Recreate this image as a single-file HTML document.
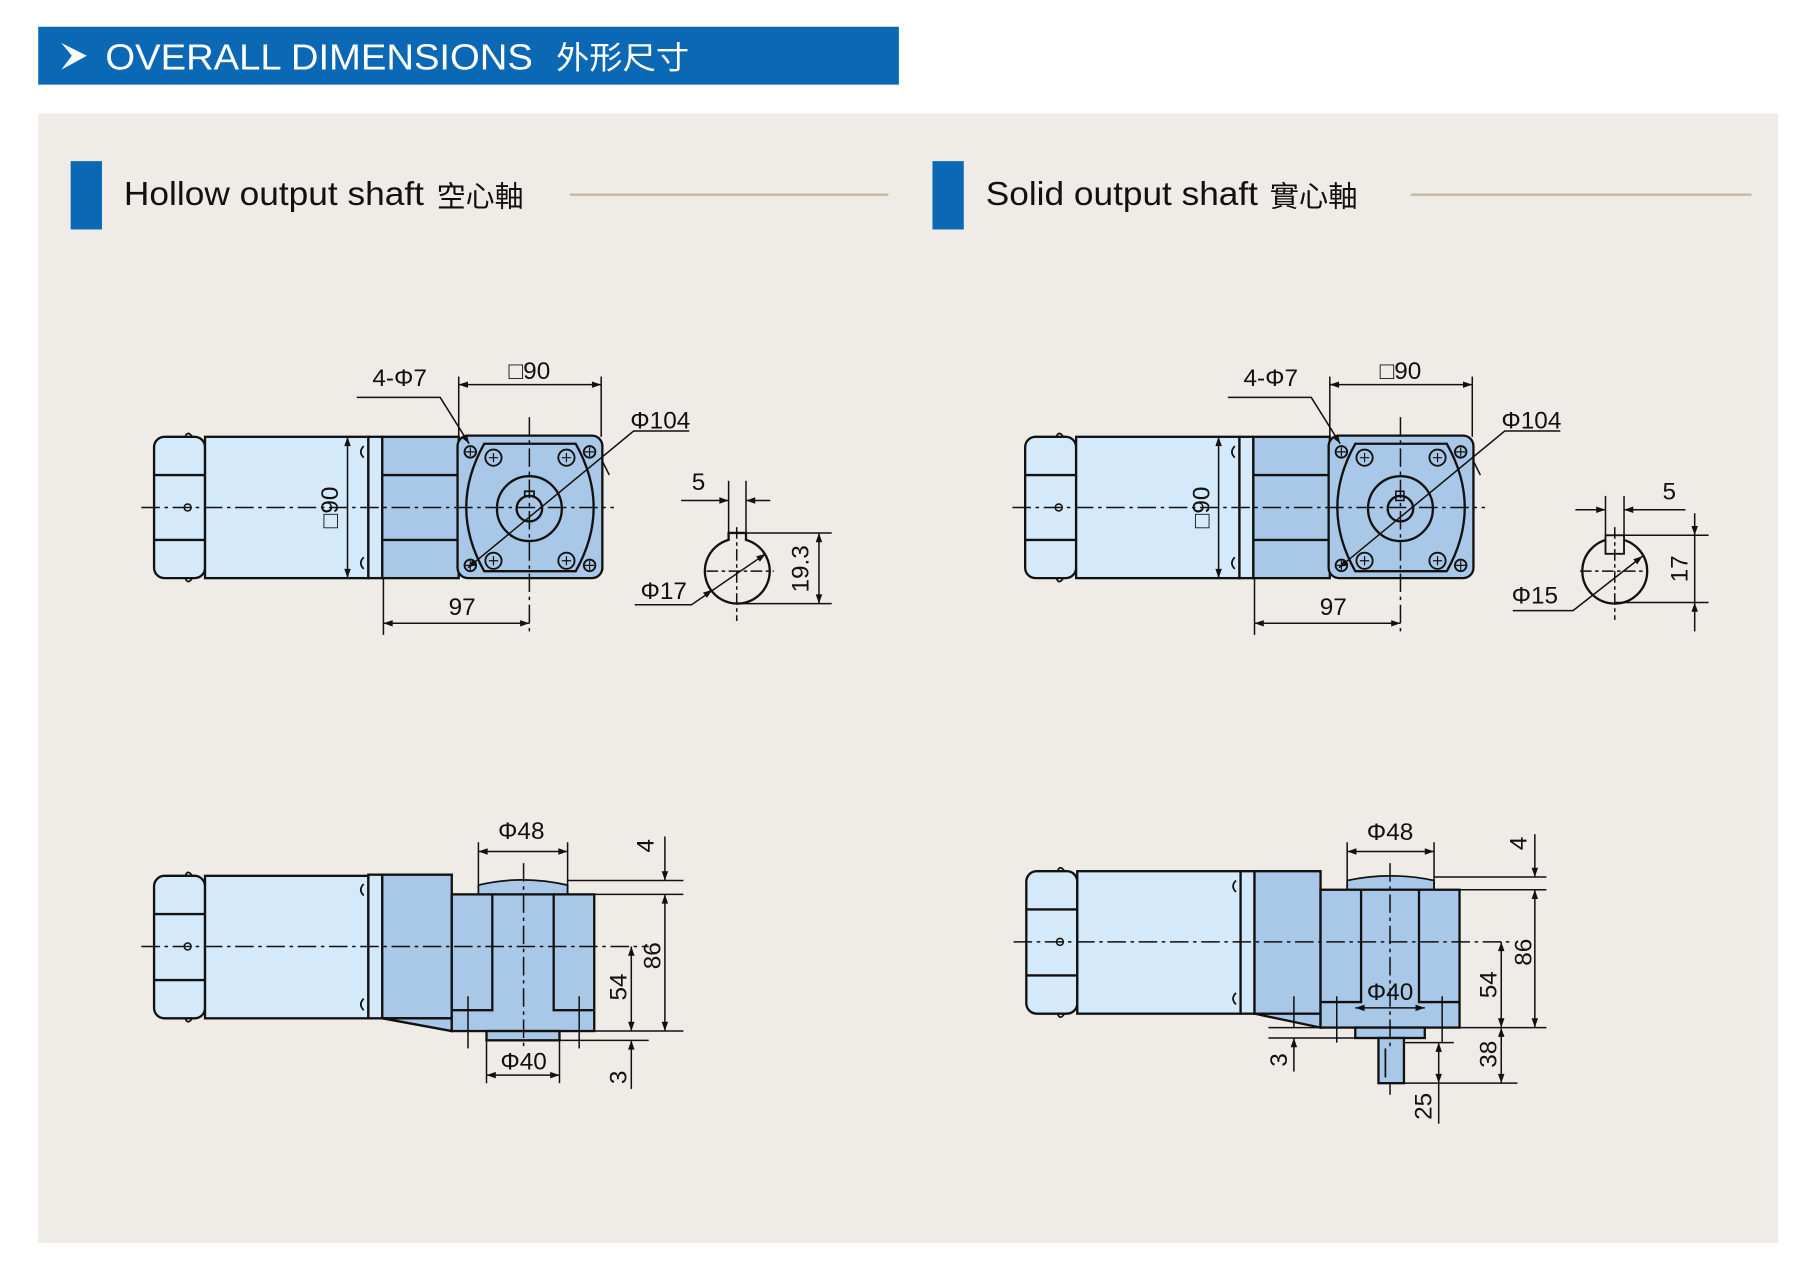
<!DOCTYPE html>
<html><head><meta charset="utf-8"><style>
html,body{margin:0;padding:0;background:#fff;}
svg{display:block;}
text{font-family:"Liberation Sans","Noto Sans CJK TC",sans-serif;fill:#111;}
</style></head><body>
<svg width="1814" height="1286" viewBox="0 0 1566 1110" xmlns="http://www.w3.org/2000/svg">
<defs>
<marker id="a" viewBox="0 0 10 10" refX="10" refY="5" markerWidth="11" markerHeight="8" orient="auto-start-reverse" markerUnits="userSpaceOnUse"><path d="M0,1.5 L10,5 L0,8.5 z" fill="#111"/></marker>
<g id="motorTop">
 <rect x="133" y="377" width="44" height="122" rx="9" fill="#d4e9f9" stroke="#111" stroke-width="2"/>
 <line x1="133" y1="410" x2="177" y2="410" stroke="#111" stroke-width="2"/>
 <line x1="133" y1="466" x2="177" y2="466" stroke="#111" stroke-width="2"/>
 <rect x="177" y="377" width="141" height="122" fill="#d4e9f9" stroke="#111" stroke-width="2"/>
 <rect x="318" y="377" width="12" height="122" fill="#d4e9f9" stroke="#111" stroke-width="2"/>
 <rect x="330" y="377" width="66" height="122" fill="#a9c7e7" stroke="#111" stroke-width="2"/>
 <line x1="330" y1="410" x2="396" y2="410" stroke="#111" stroke-width="2"/>
 <line x1="330" y1="466" x2="396" y2="466" stroke="#111" stroke-width="2"/>
 <path d="M160 377 q2-6 6 0 M160 499 q2 6 6 0" fill="none" stroke="#111" stroke-width="1.5"/>
 <path d="M314 385 q-5 5 0 10 M314 481 q-5 5 0 10" fill="none" stroke="#111" stroke-width="1.5"/>
 <rect x="395" y="376" width="125" height="123" rx="9" fill="#a9c7e7" stroke="#111" stroke-width="2"/>
 <path d="M418 383 L497 383 Q528 438 497 493 L418 493 Q387 438 418 383 Z" fill="#a9c7e7" stroke="#111" stroke-width="2"/>
 <circle cx="457" cy="439" r="28" fill="none" stroke="#111" stroke-width="2"/>
 <g fill="#a9c7e7" stroke="#111" stroke-width="1.6">
  <circle cx="426" cy="395" r="7"/><circle cx="489" cy="395" r="7"/><circle cx="426" cy="484" r="7"/><circle cx="489" cy="484" r="7"/>
  <circle cx="406" cy="390" r="5"/><circle cx="509" cy="390" r="5"/><circle cx="406" cy="488" r="5"/><circle cx="509" cy="488" r="5"/>
 </g>
 <g stroke="#111" stroke-width="1">
  <path d="M402 390h8M406 386v8M505 390h8M509 386v8M402 488h8M406 484v8M505 488h8M509 484v8"/>
  <path d="M422 395h8M426 391v8M485 395h8M489 391v8M422 484h8M426 480v8M485 484h8M489 480v8"/>
 </g>
 <line x1="122" y1="438" x2="530" y2="438" stroke="#111" stroke-width="1.3" stroke-dasharray="16,4,3,4"/>
 <line x1="457" y1="360" x2="457" y2="548" stroke="#111" stroke-width="1.3" stroke-dasharray="16,4,3,4"/>
 <circle cx="162" cy="438" r="3" fill="none" stroke="#111" stroke-width="1.3"/>
 <g stroke="#111" stroke-width="1.3" fill="none">
  <line x1="396" y1="325" x2="396" y2="377"/><line x1="519" y1="325" x2="519" y2="377"/>
  <line x1="396" y1="332" x2="519" y2="332" marker-start="url(#a)" marker-end="url(#a)"/>
  <polyline points="308,343 380,343 405,383" marker-end="url(#a)"/>
  <polyline points="595,372 547,372 404,490" marker-end="url(#a)"/>
  <line x1="520" y1="398" x2="526" y2="410"/>
  <line x1="288" y1="377" x2="318" y2="377"/><line x1="288" y1="499" x2="318" y2="499"/>
  <line x1="300" y1="377" x2="300" y2="499" marker-start="url(#a)" marker-end="url(#a)"/>
  <line x1="331" y1="499" x2="331" y2="548"/>
  <line x1="331" y1="538" x2="457" y2="538" marker-start="url(#a)" marker-end="url(#a)"/>
 </g>
 <text x="457" y="327" font-size="21" text-anchor="middle">□90</text>
 <text x="345" y="333" font-size="21" text-anchor="middle">4-Φ7</text>
 <text x="570" y="370" font-size="21" text-anchor="middle">Φ104</text>
 <text x="399" y="531" font-size="21" text-anchor="middle">97</text>
 <text transform="translate(292,438) rotate(-90)" font-size="21" text-anchor="middle">□90</text>
</g>
<g id="motorSide">
 <rect x="133" y="756" width="44" height="123" rx="9" fill="#d4e9f9" stroke="#111" stroke-width="2"/>
 <line x1="133" y1="789" x2="177" y2="789" stroke="#111" stroke-width="2"/>
 <line x1="133" y1="846" x2="177" y2="846" stroke="#111" stroke-width="2"/>
 <rect x="177" y="756" width="141" height="123" fill="#d4e9f9" stroke="#111" stroke-width="2"/>
 <path d="M160 756 q2-6 6 0 M160 879 q2 6 6 0" fill="none" stroke="#111" stroke-width="1.5"/>
 <circle cx="162" cy="817" r="3" fill="none" stroke="#111" stroke-width="1.3"/>
</g>
</defs>
<rect x="33" y="23" width="743" height="50" fill="#0a68b4"/>
<path d="M53 37 L75 48 L53 60 L62 48 Z" fill="#fff"/>
<text x="91" y="60" font-size="31" textLength="369" lengthAdjust="spacingAndGlyphs" style="fill:#fff">OVERALL DIMENSIONS</text>
<text x="480" y="59" font-size="27" textLength="115" lengthAdjust="spacingAndGlyphs" style="fill:#fff">外形尺寸</text>
<rect x="33" y="98" width="1502" height="975" fill="#efebe7"/>
<rect x="61" y="139" width="27" height="59" fill="#0a68b4"/>
<text x="107" y="177" font-size="29" textLength="259" lengthAdjust="spacingAndGlyphs">Hollow output shaft</text>
<text x="377" y="178" font-size="25" textLength="75" lengthAdjust="spacingAndGlyphs">空心軸</text>
<line x1="492" y1="168" x2="767" y2="168" stroke="#c5b99f" stroke-width="2"/>
<rect x="805" y="139" width="27" height="59" fill="#0a68b4"/>
<text x="851" y="177" font-size="29" textLength="235" lengthAdjust="spacingAndGlyphs">Solid output shaft</text>
<text x="1096" y="178" font-size="25" textLength="76" lengthAdjust="spacingAndGlyphs">實心軸</text>
<line x1="1218" y1="168" x2="1512" y2="168" stroke="#c5b99f" stroke-width="2"/>

<use href="#motorTop"/>
<use href="#motorTop" transform="translate(752,0)"/>
<circle cx="457" cy="439" r="11" fill="none" stroke="#111" stroke-width="2"/>
<path d="M453 428 v-4 h8 v4" fill="none" stroke="#111" stroke-width="1.5"/>
<circle cx="1209" cy="439" r="11" fill="none" stroke="#111" stroke-width="2"/>
<rect x="1205" y="424" width="7" height="8" fill="none" stroke="#111" stroke-width="1.3"/>

<g stroke="#111" stroke-width="1.3" fill="none">
 <path d="M629 466 A28 28 0 1 0 644 466 L644 460 L629 460 Z" fill="none" stroke-width="2"/>
 <line x1="610" y1="493" x2="668" y2="493" stroke-dasharray="10,3,3,3"/>
 <line x1="636" y1="455" x2="636" y2="536" stroke-dasharray="10,3,3,3"/>
 <line x1="629" y1="415" x2="629" y2="460"/><line x1="644" y1="415" x2="644" y2="460"/>
 <line x1="588" y1="432" x2="629" y2="432" marker-end="url(#a)"/>
 <line x1="665" y1="432" x2="644" y2="432" marker-end="url(#a)"/>
 <line x1="644" y1="460" x2="718" y2="460"/><line x1="636" y1="521" x2="718" y2="521"/>
 <line x1="707" y1="460" x2="707" y2="521" marker-start="url(#a)" marker-end="url(#a)"/>
 <polyline points="548,522 597,522 661,478" marker-end="url(#a)"/>
 <line x1="611" y1="512" x2="615" y2="509" marker-end="url(#a)"/>
 <circle cx="1394" cy="493" r="28" stroke-width="2"/>
 <rect x="1386" y="462" width="16" height="16" fill="#efebe7" stroke-width="1.6"/>
 <line x1="1364" y1="493" x2="1422" y2="493" stroke-dasharray="10,3,3,3"/>
 <line x1="1394" y1="455" x2="1394" y2="535" stroke-dasharray="10,3,3,3"/>
 <line x1="1386" y1="428" x2="1386" y2="462"/><line x1="1402" y1="428" x2="1402" y2="462"/>
 <line x1="1360" y1="440" x2="1386" y2="440" marker-end="url(#a)"/>
 <line x1="1455" y1="440" x2="1402" y2="440" marker-end="url(#a)"/>
 <line x1="1402" y1="462" x2="1475" y2="462"/><line x1="1394" y1="520" x2="1475" y2="520"/>
 <line x1="1463" y1="443" x2="1463" y2="462" marker-end="url(#a)"/>
 <line x1="1463" y1="545" x2="1463" y2="520" marker-end="url(#a)"/>
 <line x1="1463" y1="462" x2="1463" y2="520"/>
 <polyline points="1306,527 1358,527 1418,480" marker-end="url(#a)"/>
</g>
<text x="603" y="423" font-size="21" text-anchor="middle">5</text>
<text x="573" y="517" font-size="21" text-anchor="middle">Φ17</text>
<text transform="translate(698,491) rotate(-90)" font-size="21" text-anchor="middle">19.3</text>
<text x="1441" y="431" font-size="21" text-anchor="middle">5</text>
<text x="1325" y="521" font-size="21" text-anchor="middle">Φ15</text>
<text transform="translate(1457,491) rotate(-90)" font-size="21" text-anchor="middle">17</text>

<use href="#motorSide"/>
<g stroke="#111" stroke-width="2" fill="#a9c7e7">
 <rect x="318" y="755" width="12" height="124" fill="#d4e9f9"/>
 <path d="M330 755 L390 755 L390 879 L330 879 Z"/>
 <path d="M330 879 L390 879 L390 890 Z"/>
 <path d="M413 772 L413 764 Q450 755 490 764 L490 772 Z" stroke-width="1.5"/>
 <rect x="390" y="772" width="123" height="118"/>
 <path d="M425 772 V872 H390 M478 772 V872 H513" fill="none"/>
 <rect x="420" y="890" width="63" height="8"/>
</g>
<g stroke="#111" stroke-width="1.3" fill="none">
 <path d="M314 763 q-5 5 0 10 M314 862 q-5 5 0 10" stroke-width="1.5"/>
 <line x1="122" y1="817" x2="560" y2="817" stroke-dasharray="16,4,3,4"/>
 <line x1="452" y1="745" x2="452" y2="905" stroke-dasharray="16,4,3,4"/>
 <line x1="413" y1="727" x2="413" y2="764"/><line x1="490" y1="727" x2="490" y2="772"/>
 <line x1="413" y1="735" x2="490" y2="735" marker-start="url(#a)" marker-end="url(#a)"/>
 <line x1="490" y1="760" x2="590" y2="760"/><line x1="513" y1="772" x2="590" y2="772"/>
 <line x1="574" y1="722" x2="574" y2="760" marker-end="url(#a)"/>
 <line x1="574" y1="772" x2="574" y2="890" marker-start="url(#a)" marker-end="url(#a)"/>
 <line x1="513" y1="890" x2="590" y2="890"/><line x1="483" y1="898" x2="560" y2="898"/>
 <line x1="545" y1="817" x2="545" y2="890" marker-start="url(#a)" marker-end="url(#a)"/>
 <line x1="545" y1="940" x2="545" y2="898" marker-end="url(#a)"/>
 <line x1="420" y1="898" x2="420" y2="935"/><line x1="483" y1="898" x2="483" y2="935"/>
 <line x1="420" y1="928" x2="483" y2="928" marker-start="url(#a)" marker-end="url(#a)"/>
 <line x1="404" y1="860" x2="404" y2="905"/><line x1="500" y1="860" x2="500" y2="905"/>
</g>
<text x="450" y="724" font-size="21" text-anchor="middle">Φ48</text>
<text x="452" y="923" font-size="21" text-anchor="middle">Φ40</text>
<text transform="translate(564,730) rotate(-90)" font-size="21" text-anchor="middle">4</text>
<text transform="translate(570,825) rotate(-90)" font-size="21" text-anchor="middle">86</text>
<text transform="translate(541,852) rotate(-90)" font-size="21" text-anchor="middle">54</text>
<text transform="translate(541,930) rotate(-90)" font-size="21" text-anchor="middle">3</text>

<use href="#motorSide" transform="translate(753,-4)"/>
<g stroke="#111" stroke-width="2" fill="#a9c7e7">
 <rect x="1071" y="752" width="12" height="123" fill="#d4e9f9"/>
 <path d="M1083 752 L1140 752 L1140 875 L1083 875 Z"/>
 <path d="M1083 875 L1140 875 L1140 887 Z"/>
 <path d="M1163 768 L1163 760 Q1200 752 1238 760 L1238 768 Z" stroke-width="1.5"/>
 <rect x="1140" y="768" width="120" height="119"/>
 <path d="M1175 768 V865 H1140 M1225 768 V865 H1260" fill="none"/>
 <rect x="1170" y="887" width="60" height="9"/>
 <rect x="1190" y="896" width="22" height="39"/>
 <path d="M1196 905 V930" fill="none" stroke-width="1.5"/>
</g>
<g stroke="#111" stroke-width="1.3" fill="none">
 <path d="M1067 760 q-5 5 0 10 M1067 857 q-5 5 0 10" stroke-width="1.5"/>
 <line x1="875" y1="813" x2="1305" y2="813" stroke-dasharray="16,4,3,4"/>
 <line x1="1200" y1="745" x2="1200" y2="905" stroke-dasharray="16,4,3,4"/>
 <line x1="1163" y1="727" x2="1163" y2="760"/><line x1="1238" y1="727" x2="1238" y2="768"/>
 <line x1="1163" y1="735" x2="1238" y2="735" marker-start="url(#a)" marker-end="url(#a)"/>
 <line x1="1238" y1="757" x2="1335" y2="757"/><line x1="1260" y1="768" x2="1335" y2="768"/>
 <line x1="1325" y1="720" x2="1325" y2="757" marker-end="url(#a)"/>
 <line x1="1325" y1="768" x2="1325" y2="887" marker-start="url(#a)" marker-end="url(#a)"/>
 <line x1="1260" y1="887" x2="1335" y2="887"/>
 <line x1="1296" y1="813" x2="1296" y2="887" marker-start="url(#a)" marker-end="url(#a)"/>
 <line x1="1296" y1="887" x2="1296" y2="935" marker-start="url(#a)" marker-end="url(#a)"/>
 <line x1="1212" y1="935" x2="1310" y2="935"/><line x1="1212" y1="900" x2="1255" y2="900"/>
 <line x1="1242" y1="900" x2="1242" y2="935" marker-start="url(#a)" marker-end="url(#a)"/>
 <line x1="1242" y1="935" x2="1242" y2="970"/>
 <line x1="1170" y1="870" x2="1230" y2="870" marker-start="url(#a)" marker-end="url(#a)"/>
 <line x1="1095" y1="887" x2="1170" y2="887"/><line x1="1095" y1="896" x2="1170" y2="896"/>
 <line x1="1117" y1="860" x2="1117" y2="887"/>
 <line x1="1117" y1="925" x2="1117" y2="896" marker-end="url(#a)"/>
 <line x1="1154" y1="860" x2="1154" y2="900"/><line x1="1245" y1="860" x2="1245" y2="900"/>
 <line x1="1200" y1="935" x2="1200" y2="945"/>
</g>
<text x="1200" y="725" font-size="21" text-anchor="middle">Φ48</text>
<text x="1200" y="863" font-size="21" text-anchor="middle">Φ40</text>
<text transform="translate(1318,728) rotate(-90)" font-size="21" text-anchor="middle">4</text>
<text transform="translate(1322,822) rotate(-90)" font-size="21" text-anchor="middle">86</text>
<text transform="translate(1292,850) rotate(-90)" font-size="21" text-anchor="middle">54</text>
<text transform="translate(1292,910) rotate(-90)" font-size="21" text-anchor="middle">38</text>
<text transform="translate(1236,955) rotate(-90)" font-size="21" text-anchor="middle">25</text>
<text transform="translate(1111,915) rotate(-90)" font-size="21" text-anchor="middle">3</text>
</svg>
</body></html>
